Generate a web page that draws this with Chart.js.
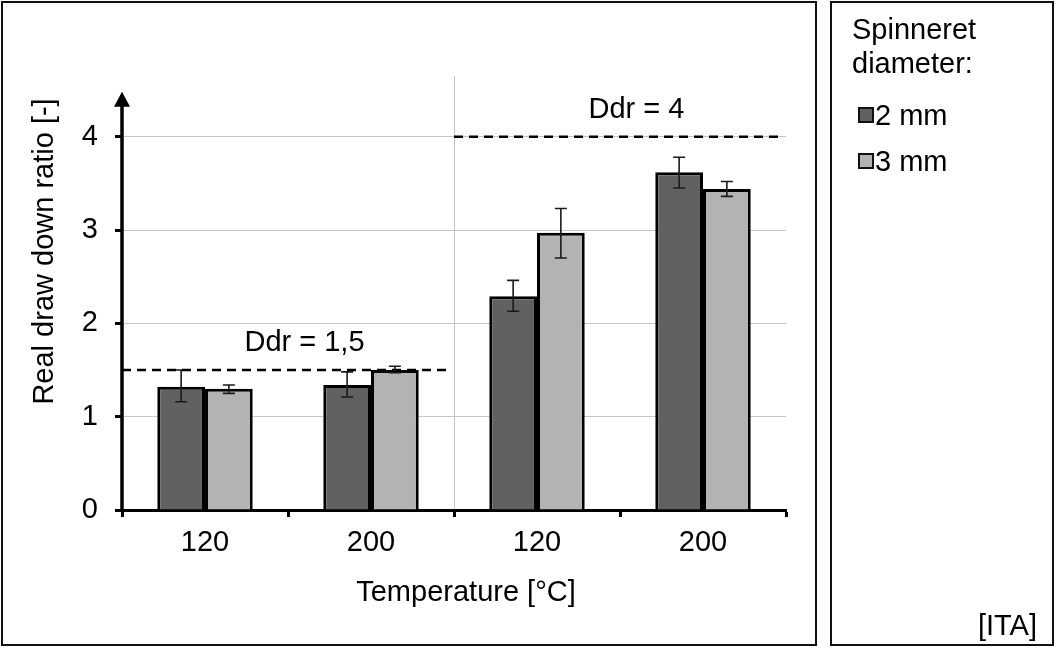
<!DOCTYPE html>
<html>
<head>
<meta charset="utf-8">
<script src="https://cdn.jsdelivr.net/npm/chart.js@4.4.1/dist/chart.umd.min.js"></script>
<style>
  body { margin: 0; background: #fff; font-family: "Liberation Sans", Arial, sans-serif; }
  .box { position: absolute; box-sizing: border-box; border: 2px solid #111; background: #fff; }
  #plotBox { left: 1px; top: 1px; width: 816px; height: 645px; }
  #legendBox { left: 830px; top: 1px; width: 224px; height: 645px; }
  #chartWrap { position: absolute; left: 0; top: 0; width: 1056px; height: 648px; }
  .txt { position: absolute; font-size: 29px; line-height: 34px; color: #000; white-space: nowrap; }
  .item { position: absolute; left: 858px; height: 34px; display: flex; align-items: center; font-size: 29px; }
  .swatch { width: 16px; height: 16px; box-sizing: border-box; border: 2px solid #111; margin-right: 1px; }
</style>
</head>
<body>
<div class="box" id="plotBox"></div>
<div class="box" id="legendBox"></div>
<div id="chartWrap"><canvas id="ddrChart" width="1056" height="648"></canvas></div>
<div class="txt" style="left:852px; top:12px;">Spinneret<br>diameter:</div>
<div id="legendItems"></div>
<div class="txt" style="right:19px; top:608px;">[ITA]</div>

<script>
// data
const temperatures = ["120", "200", "120", "200"];
const ratio2mm = [1.32, 1.34, 2.29, 3.62];
const ratio3mm = [1.30, 1.50, 2.97, 3.44];
const err2mmLow = [1.16, 1.21, 2.13, 3.45];
const err2mmHigh = [1.50, 1.48, 2.46, 3.78];
const err3mmLow = [1.25, 1.47, 2.70, 3.36];
const err3mmHigh = [1.34, 1.54, 3.23, 3.52];
const yTickValues = [0, 1, 2, 3, 4];
const targetRatios = [1.5, 4];
const targetLabels = ["Ddr = 1,5", "Ddr = 4"];
const targetGroups = [[0, 1], [2, 3]];

const FONT = "Liberation Sans, Arial, sans-serif";
const FSIZE = 29;

const errorBarPlugin = {
  id: "errorBars",
  afterDatasetsDraw(chart) {
    const ctx = chart.ctx;
    const y = chart.scales.y;
    ctx.save();
    ctx.strokeStyle = "#1a1a1a";
    ctx.lineWidth = 1.6;
    chart.data.datasets.forEach((ds, i) => {
      const meta = chart.getDatasetMeta(i);
      meta.data.forEach((bar, j) => {
        const top = y.getPixelForValue(ds.errorHigh[j]);
        const bot = y.getPixelForValue(ds.errorLow[j]);
        ctx.beginPath();
        ctx.moveTo(bar.x, top); ctx.lineTo(bar.x, bot);
        ctx.moveTo(bar.x - 6, top); ctx.lineTo(bar.x + 6, top);
        ctx.moveTo(bar.x - 6, bot); ctx.lineTo(bar.x + 6, bot);
        ctx.stroke();
      });
    });
    ctx.restore();
  },
};

const targetLinePlugin = {
  id: "targetLines",
  afterDatasetsDraw(chart) {
    const ctx = chart.ctx;
    const x = chart.scales.x, y = chart.scales.y;
    const catW = x.getPixelForValue(1) - x.getPixelForValue(0);
    ctx.save();
    targetRatios.forEach((v, k) => {
      const g = targetGroups[k];
      const start = x.getPixelForValue(g[0]) - catW / 2;
      const end = x.getPixelForValue(g[g.length - 1]) + catW / 2 - 7;
      const py = y.getPixelForValue(v);
      ctx.strokeStyle = "#000";
      ctx.lineWidth = 2.5;
      ctx.setLineDash([9, 6]);
      ctx.beginPath();
      ctx.moveTo(start, py); ctx.lineTo(end, py);
      ctx.stroke();
      ctx.setLineDash([]);
      ctx.fillStyle = "#000";
      ctx.font = FSIZE + "px " + FONT;
      ctx.textAlign = "center";
      ctx.textBaseline = "middle";
      ctx.fillText(targetLabels[k], (start + end) / 2 + 20, py - 27);
    });
    ctx.restore();
  },
};

// y axis with arrow head, plus axis titles
const axisPlugin = {
  id: "axisDecor",
  afterDraw(chart) {
    const ctx = chart.ctx;
    const y = chart.scales.y, x = chart.scales.x;
    const ax = x.left;
    const bottom = y.getPixelForValue(0);
    const tip = y.getPixelForValue(4.48);
    ctx.save();
    ctx.strokeStyle = "#000";
    ctx.fillStyle = "#000";
    ctx.lineWidth = 3.5;
    ctx.beginPath();
    ctx.moveTo(ax, bottom + 1.5); ctx.lineTo(ax, tip + 12);
    ctx.stroke();
    ctx.beginPath();
    ctx.moveTo(ax, tip); ctx.lineTo(ax - 8, tip + 15); ctx.lineTo(ax + 8, tip + 15);
    ctx.closePath();
    ctx.fill();

    ctx.font = FSIZE + "px " + FONT;
    ctx.textAlign = "center";
    ctx.textBaseline = "middle";
    ctx.fillText("Temperature [°C]", (x.left + x.right) / 2 + 12, 593);
    ctx.translate(45, y.getPixelForValue(2.77));
    ctx.rotate(-Math.PI / 2);
    ctx.fillText("Real draw down ratio [-]", 0, 0);
    ctx.restore();
  },
};

const chart = new Chart(document.getElementById("ddrChart"), {
  type: "bar",
  data: {
    labels: temperatures,
    datasets: [
      {
        label: "2 mm",
        data: ratio2mm,
        errorLow: err2mmLow,
        errorHigh: err2mmHigh,
        backgroundColor: "#616161",
        borderColor: "#000",
        borderWidth: 3,
      },
      {
        label: "3 mm",
        data: ratio3mm,
        errorLow: err3mmLow,
        errorHigh: err3mmHigh,
        backgroundColor: "#b3b3b3",
        borderColor: "#000",
        borderWidth: 3,
      },
    ],
  },
  options: {
    responsive: false,
    animation: false,
    devicePixelRatio: 1,
    categoryPercentage: 0.575,
    barPercentage: 1,
    layout: { padding: { top: 76, right: 270, left: 0, bottom: 0 } },
    plugins: {
      legend: { display: false },
      tooltip: { enabled: false },
    },
    scales: {
      x: {
        grid: {
          offset: true,
          color: (c) => (c.index === 2 ? "#c6c6c6" : "rgba(0,0,0,0)"),
          lineWidth: 1,
          tickColor: "#000",
          tickWidth: 3,
          tickLength: 7,
        },
        border: { display: true, color: "#000", width: 3 },
        ticks: { color: "#000", font: { family: FONT, size: FSIZE }, padding: 9 },
        afterFit: (axis) => { axis.height = 138; },
      },
      y: {
        min: 0,
        max: 4.65,
        afterBuildTicks: (axis) => {
          axis.ticks = yTickValues.map((v) => ({ value: v }));
        },
        grid: {
          color: "#c6c6c6",
          lineWidth: 1,
          tickColor: "#000",
          tickWidth: 3,
          tickLength: 7,
        },
        border: { display: false },
        ticks: { color: "#000", font: { family: FONT, size: FSIZE }, padding: 17 },
        afterFit: (axis) => { axis.width = 122; },
      },
    },
  },
  plugins: [errorBarPlugin, targetLinePlugin, axisPlugin],
});

// legend in the right-hand box, built from the chart's datasets
const legendEl = document.getElementById("legendItems");
chart.data.datasets.forEach((ds, i) => {
  const row = document.createElement("div");
  row.className = "item";
  row.style.top = (98 + i * 46) + "px";
  const sw = document.createElement("span");
  sw.className = "swatch";
  sw.style.background = ds.backgroundColor;
  row.appendChild(sw);
  row.appendChild(document.createTextNode(ds.label));
  legendEl.appendChild(row);
});
</script>
</body>
</html>
